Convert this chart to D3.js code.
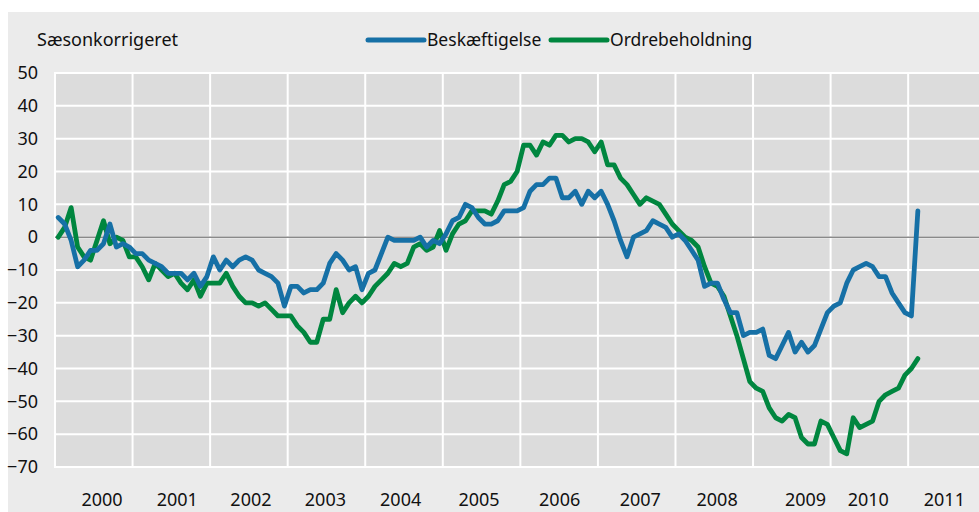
<!DOCTYPE html>
<html>
<head>
<meta charset="utf-8">
<script src="https://d3js.org/d3.v7.min.js"></script>
<style>
body { margin: 0; background: #fff; }
svg { display: block; font-family: "Noto Sans", sans-serif; }
</style>
</head>
<body>
<svg width="979" height="512"></svg>
<script>
// monthly values, Jan 2000 .. Feb 2011
var startYear = 2000;
var beskaeftigelse = [
  6, 4, -1, -9, -7, -4, -4, -2, 4, -3, -2, -3,
  -5, -5, -7, -8, -9, -11, -11, -11, -13, -11, -15, -12,
  -6, -10, -7, -9, -7, -6, -7, -10, -11, -12, -14, -21,
  -15, -15, -17, -16, -16, -14, -8, -5, -7, -10, -9, -16,
  -11, -10, -5, 0, -1, -1, -1, -1, 0, -3, -1, -2,
  1, 5, 6, 10, 9, 6, 4, 4, 5, 8, 8, 8,
  9, 14, 16, 16, 18, 18, 12, 12, 14, 10, 14, 12,
  14, 10, 5, -1, -6, 0, 1, 2, 5, 4, 3, 0,
  1, -1, -4, -7, -15, -14, -14, -19, -23, -23, -30, -29,
  -29, -28, -36, -37, -33, -29, -35, -32, -35, -33, -28, -23,
  -21, -20, -14, -10, -9, -8, -9, -12, -12, -17, -20, -23,
  -24, 8
];
var ordrebeholdning = [
  0, 3, 9, -3, -6, -7, -1, 5, -2, 0, -1, -6,
  -6, -9, -13, -8, -10, -12, -11, -14, -16, -13, -18, -14,
  -14, -14, -11, -15, -18, -20, -20, -21, -20, -22, -24, -24,
  -24, -27, -29, -32, -32, -25, -25, -16, -23, -20, -18, -20,
  -18, -15, -13, -11, -8, -9, -8, -3, -2, -4, -3, 2,
  -4, 1, 4, 5, 8, 8, 8, 7, 11, 16, 17, 20,
  28, 28, 25, 29, 28, 31, 31, 29, 30, 30, 29, 26,
  29, 22, 22, 18, 16, 13, 10, 12, 11, 10, 7, 4,
  2, 0, -1, -3, -9, -14, -15, -18, -24, -30, -37, -44,
  -46, -47, -52, -55, -56, -54, -55, -61, -63, -63, -56, -57,
  -61, -65, -66, -55, -58, -57, -56, -50, -48, -47, -46, -42,
  -40, -37
];
var seriesNames = ["Beskæftigelse", "Ordrebeholdning"];
var seriesColors = ["#1670a6", "#00863f"];
var yTicks = [50, 40, 30, 20, 10, 0, -10, -20, -30, -40, -50, -60, -70];
var gridYears = [2000, 2001, 2002, 2003, 2004, 2005, 2006, 2007, 2008, 2009, 2010, 2011];
var yearLabels = ["2000", "2001", "2002", "2003", "2004", "2005", "2006", "2007", "2008", "2009", "2010", "2011"];
var yearLabelAt = [2000.6, 2001.57, 2002.52, 2003.48, 2004.45, 2005.46, 2006.5, 2007.54, 2008.53, 2009.67, 2010.48, 2011.46];
var unitLabel = "Sæsonkorrigeret";

var svg = d3.select("svg");
var width = +svg.attr("width");
var height = +svg.attr("height");

var plotLeft = 55, plotTop = 73, plotBottom = 467;
var yearWidth = 77.56;
var plotRight = plotLeft + 12 * yearWidth;

var x = d3.scaleLinear().domain([2000, 2012]).range([plotLeft, plotRight]);
var y = d3.scaleLinear().domain([-70, 50]).range([plotBottom, plotTop]);

// backgrounds
svg.append("rect")
    .attr("x", 8).attr("y", 12)
    .attr("width", width).attr("height", height)
    .attr("fill", "#ebebeb");

svg.append("rect")
    .attr("x", plotLeft).attr("y", plotTop)
    .attr("width", plotRight - plotLeft).attr("height", plotBottom - plotTop)
    .attr("fill", "#dcdcdc");

// grid
var grid = svg.append("g").attr("class", "grid");

grid.selectAll("line.h")
    .data(yTicks)
    .enter().append("line")
    .attr("class", "h")
    .attr("x1", plotLeft - 1).attr("x2", plotRight)
    .attr("y1", d => y(d)).attr("y2", d => y(d))
    .attr("stroke", "#fff")
    .attr("stroke-width", 2);

grid.selectAll("line.v")
    .data(gridYears)
    .enter().append("line")
    .attr("class", "v")
    .attr("x1", d => x(d)).attr("x2", d => x(d))
    .attr("y1", plotTop - 1).attr("y2", plotBottom + 1)
    .attr("stroke", "#fff")
    .attr("stroke-width", 2);

svg.append("line")
    .attr("x1", plotLeft).attr("x2", plotRight)
    .attr("y1", y(0)).attr("y2", y(0))
    .attr("stroke", "#8a8a8a")
    .attr("stroke-width", 1.5);

// axes
var yAxis = svg.append("g")
    .attr("transform", "translate(" + plotLeft + ",0)")
    .call(d3.axisLeft(y).tickValues(yTicks).tickSize(0).tickPadding(17));

var xAxis = svg.append("g")
    .attr("transform", "translate(0," + plotBottom + ")")
    .call(d3.axisBottom(x).tickValues(yearLabelAt).tickSize(0).tickPadding(26)
        .tickFormat((d, i) => yearLabels[i]));

[yAxis, xAxis].forEach(function (a) {
    a.select(".domain").remove();
    a.selectAll("text")
        .attr("fill", "#111")
        .style("font-family", "'Noto Sans', sans-serif")
        .style("font-size", "18px");
});

// lines
var line = d3.line()
    .x((d, i) => x(startYear + (i + 0.5) / 12))
    .y(d => y(d));

var lines = svg.append("g").attr("class", "lines");

[ordrebeholdning, beskaeftigelse].forEach(function (values, k) {
    lines.append("path")
        .datum(values)
        .attr("d", line)
        .attr("fill", "none")
        .attr("stroke", seriesColors[1 - k])
        .attr("stroke-width", 4.8)
        .attr("stroke-linejoin", "round")
        .attr("stroke-linecap", "round");
});

// header
svg.append("text")
    .attr("x", 37).attr("y", 46)
    .attr("fill", "#111")
    .style("font-size", "18px")
    .text(unitLabel);

var legendX = [368, 551];
var legend = svg.append("g").attr("class", "legend");

seriesNames.forEach(function (name, k) {
    legend.append("line")
        .attr("x1", legendX[k]).attr("x2", legendX[k] + 56)
        .attr("y1", 40).attr("y2", 40)
        .attr("stroke", seriesColors[k])
        .attr("stroke-width", 5)
        .attr("stroke-linecap", "round");
    legend.append("text")
        .attr("x", legendX[k] + 59).attr("y", 46)
        .attr("fill", "#111")
        .style("font-size", "17.5px")
        .text(name);
});
</script>
</body>
</html>
